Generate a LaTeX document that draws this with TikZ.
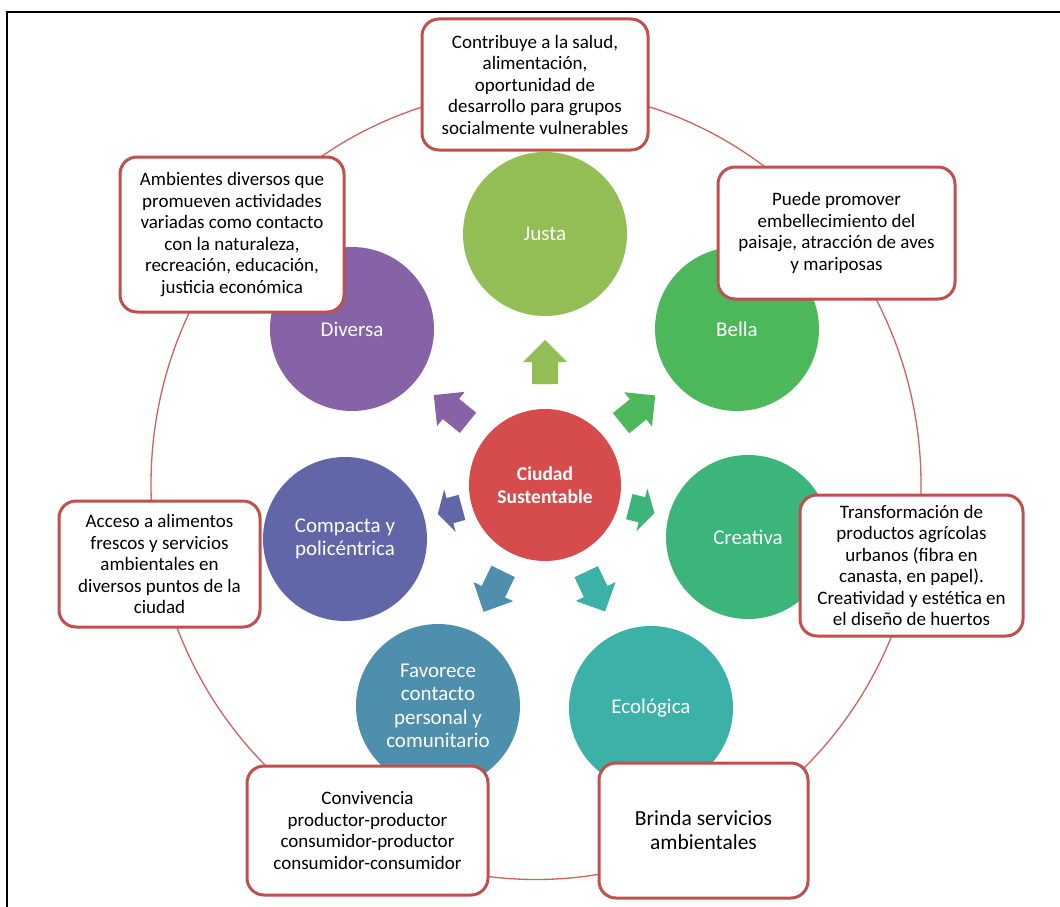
\documentclass[tikz,border=0pt]{standalone}
\usepackage{fontspec}
\setmainfont{Carlito}
\usetikzlibrary{calc,shapes.geometric}

\definecolor{boxred}{HTML}{C0504D}
\definecolor{ringred}{HTML}{D0625F}
\definecolor{cityred}{HTML}{D64B4B}
\definecolor{justacol}{HTML}{93BD55}
\definecolor{bellacol}{HTML}{4CB85B}
\definecolor{creacol}{HTML}{3BB57A}
\definecolor{ecocol}{HTML}{3CB1A8}
\definecolor{favcol}{HTML}{4E8FAE}
\definecolor{compcol}{HTML}{6066A8}
\definecolor{divcol}{HTML}{8663A6}

% block arrow lying on the line from #1 to #2, between distances #3 and #4
\newcommand\radarrow[5]{%
  \path ($(#1.center)!#3!(#2.center)$) coordinate (ab)
        ($(#1.center)!#4!(#2.center)$) coordinate (at)
        ($(ab)!0.5!(at)$) coordinate (ah);
  \fill[#5] ($(ab)!13pt!90:(at)$) -- ($(ah)!13pt!90:(at)$) -- ($(ah)!22pt!90:(at)$)
    -- (at) -- ($(ah)!22pt!-90:(at)$) -- ($(ah)!13pt!-90:(at)$) -- ($(ab)!13pt!-90:(at)$) -- cycle;
}

\begin{document}
\begin{tikzpicture}[x=1pt, y=-1pt,
  circ/.style={circle, minimum size=164pt, inner sep=0pt, text=white, align=center,
    font=\fontsize{21}{23.5}\selectfont},
  note/.style={draw=boxred, line width=3pt, fill=white, rounded corners=17pt,
    align=center, inner sep=0pt, text=black, font=\fontsize{19}{21.5}\selectfont},
  ringline/.style={ellipse, draw=ringred, line width=1.3pt, inner sep=0pt}]

\useasboundingbox (0,0) rectangle (1060,907);
\fill[white] (0,0) rectangle (1060,907);

% frame
\draw[line width=2pt] (1060,12) -- (7,12) -- (7,907);

% outer ring
\node[ringline, minimum width=770pt, minimum height=790pt] (ring) at (536,484.5) {};

% central and surrounding circles
\node[circ, fill=cityred, minimum size=152pt, font=\bfseries\fontsize{19.5}{23}\selectfont]
  (city) at (545,485) {Ciudad\\Sustentable};
\node[circ, fill=justacol] (justa) at (545,234) {Justa};
\node[circ, fill=bellacol] (bella) at (737,329) {Bella};
\node[circ, fill=creacol] (creat) at (748,537) {Creativa};
\node[circ, fill=ecocol] (ecol) at (651,708) {Ecológica};
\node[circ, fill=favcol] (favo) at (438,706) {Favorece\\contacto\\personal y\\comunitario};
\node[circ, fill=compcol] (comp) at (345,539) {Compacta y\\policéntrica};
\node[circ, fill=divcol] (dive) at (352,329) {Diversa};

% arrows from the centre outwards
\radarrow{city}{justa}{101pt}{145pt}{justacol}
\radarrow{city}{bella}{98pt}{142pt}{bellacol}
\radarrow{city}{creat}{87pt}{113pt}{creacol}
\radarrow{city}{ecol}{96pt}{140pt}{ecocol}
\radarrow{city}{favo}{96pt}{141pt}{favcol}
\radarrow{city}{comp}{86pt}{111pt}{compcol}
\radarrow{city}{dive}{99pt}{143pt}{divcol}

% description boxes
\node[note, minimum width=226pt, minimum height=131pt] (njusta) at (535,84.5)
  {Contribuye a la salud,\\alimentación,\\oportunidad de\\desarrollo para grupos\\socialmente vulnerables};
\node[note, minimum width=224pt, minimum height=155pt] (ndive) at (232,234.5)
  {Ambientes diversos que\\promueven actividades\\variadas como contacto\\con la naturaleza,\\recreación, educación,\\justicia económica};
\node[note, minimum width=237pt, minimum height=132pt] (nbella) at (836.5,233)
  {Puede promover\\embellecimiento del\\paisaje, atracción de aves\\y mariposas};
\node[note, minimum width=201pt, minimum height=126pt] (ncomp) at (159.5,564)
  {Acceso a alimentos\\frescos y servicios\\ambientales en\\diversos puntos de la\\ciudad};
\node[note, minimum width=223pt, minimum height=141pt] (ncreat) at (911.5,565.5)
  {Transformación de\\productos agrícolas\\urbanos (fibra en\\canasta, en papel).\\Creatividad y estética en\\el diseño de huertos};
\node[note, minimum width=241pt, minimum height=129pt] (nfavo) at (367.5,830.5)
  {Convivencia\\productor-productor\\consumidor-productor\\consumidor-consumidor};
\node[note, minimum width=209pt, minimum height=135pt, font=\fontsize{21.5}{24}\selectfont]
  (necol) at (703.5,830.5) {Brinda servicios\\ambientales};

\end{tikzpicture}
\end{document}
